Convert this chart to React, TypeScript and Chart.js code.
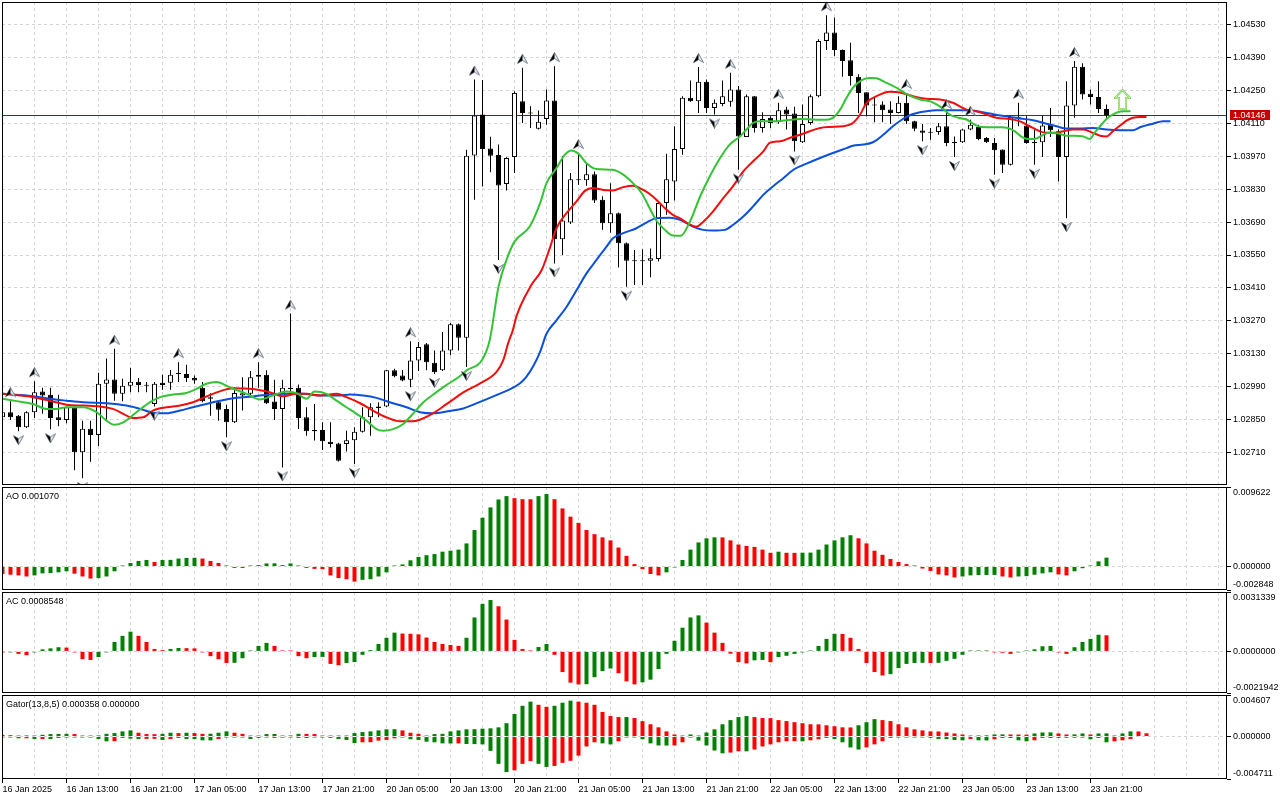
import React, { useEffect, useRef } from "react";
import { Chart, registerables } from "chart.js";

Chart.register(...registerables);

// ---------------- data ----------------
const barOpen = [
  1.02859,1.02881,1.02866,1.02817,1.02881,1.02969,1.02955,1.02859,1.02848,1.02902,
  1.02710,1.02810,1.02784,1.03002,1.03020,1.02959,1.02993,1.03010,1.02997,1.02916,
  1.03006,1.03006,1.03046,1.03044,1.03026,1.02985,1.02945,1.02923,1.02895,1.02838,
  1.02952,1.02959,1.03032,1.03040,1.02926,1.02895,1.02985,1.02985,1.02859,1.02805,
  1.02805,1.02755,1.02748,1.02745,1.02762,1.02798,1.02859,1.02899,1.02905,1.03059,
  1.03037,1.03019,1.03101,1.03170,1.03091,1.03059,1.03144,1.03255,1.03198,1.03974,
  1.04148,1.04003,1.03976,1.03852,1.03967,1.04205,1.04155,1.04087,1.04129,1.04208,
  1.03617,1.03688,1.03873,1.03868,1.03894,1.03785,1.03685,1.03728,1.03600,1.03526,
  1.03523,1.03526,1.03533,1.03771,1.03863,1.04001,1.04219,1.04205,1.04287,1.04176,
  1.04193,1.04202,1.04255,1.04052,1.04226,1.04091,1.04134,1.04115,1.04169,1.04152,
  1.04030,1.04112,1.04226,1.04461,1.04497,1.04423,1.04379,1.04309,1.04243,1.04186,
  1.04191,1.04169,1.04155,1.04198,1.04119,1.04080,1.04070,1.04074,1.04098,1.04027,
  1.04030,1.04084,1.04095,1.04048,1.04027,1.03999,1.03934,1.04138,1.04101,1.04027,
  1.04030,1.04105,1.04077,1.03967,1.04186,1.04351,1.04236,1.04223,1.04172,
];
const barHigh = [
  1.02888,1.02928,1.02869,1.02885,1.03013,1.02985,1.02985,1.02955,1.02905,1.02905,
  1.02845,1.02845,1.03049,1.03110,1.03151,1.03023,1.03070,1.03026,1.03009,1.03009,
  1.03040,1.03061,1.03094,1.03083,1.03037,1.03009,1.02962,1.02933,1.02913,1.02987,
  1.03030,1.03056,1.03094,1.03059,1.03019,1.03019,1.03301,1.02999,1.02902,1.02916,
  1.02838,1.02838,1.02751,1.02802,1.02817,1.02902,1.02919,1.02923,1.03061,1.03066,
  1.03061,1.03183,1.03180,1.03175,1.03144,1.03222,1.03261,1.03258,1.03998,1.04297,
  1.04295,1.04053,1.04020,1.03966,1.04247,1.04347,1.04183,1.04165,1.04255,1.04354,
  1.03970,1.03899,1.03984,1.03944,1.03906,1.03800,1.03856,1.03731,1.03603,1.03571,
  1.03574,1.03578,1.03774,1.03981,1.04098,1.04226,1.04293,1.04350,1.04297,1.04212,
  1.04293,1.04326,1.04269,1.04233,1.04226,1.04158,1.04141,1.04198,1.04181,1.04181,
  1.04191,1.04233,1.04468,1.04571,1.04561,1.04425,1.04454,1.04319,1.04243,1.04219,
  1.04205,1.04205,1.04226,1.04240,1.04122,1.04108,1.04091,1.04112,1.04155,1.04055,
  1.04087,1.04126,1.04105,1.04052,1.04048,1.03999,1.04141,1.04198,1.04141,1.04084,
  1.04144,1.04176,1.04084,1.04290,1.04376,1.04366,1.04255,1.04290,1.04191,
];
const barLow = [
  1.02852,1.02848,1.02800,1.02814,1.02856,1.02874,1.02808,1.02821,1.02834,1.02634,
  1.02600,1.02670,1.02737,1.02848,1.02930,1.02928,1.02966,1.02966,1.02966,1.02905,
  1.02976,1.02976,1.03009,1.03009,1.03002,1.02923,1.02866,1.02845,1.02774,1.02835,
  1.02888,1.02952,1.02985,1.02916,1.02848,1.02646,1.02970,1.02809,1.02781,1.02760,
  1.02720,1.02731,1.02671,1.02714,1.02660,1.02795,1.02781,1.02859,1.02902,1.03030,
  1.03013,1.02987,1.03056,1.03059,1.03044,1.03056,1.03123,1.03144,1.03073,1.03785,
  1.03842,1.03902,1.03529,1.03825,1.03899,1.04112,1.04091,1.04084,1.04105,1.03514,
  1.03550,1.03682,1.03849,1.03845,1.03771,1.03657,1.03645,1.03497,1.03415,1.03422,
  1.03422,1.03455,1.03522,1.03721,1.03782,1.03977,1.04202,1.04155,1.04155,1.04148,
  1.04183,1.04181,1.03913,1.04052,1.04072,1.04072,1.04091,1.04109,1.04084,1.03991,
  1.04027,1.04105,1.04222,1.04423,1.04397,1.04309,1.04272,1.04155,1.04141,1.04115,
  1.04115,1.04109,1.04152,1.04109,1.04077,1.04034,1.04041,1.04062,1.04013,1.03967,
  1.04027,1.04081,1.04038,1.04027,1.03892,1.03899,1.03931,1.04098,1.04024,1.03934,
  1.03967,1.04052,1.03863,1.03707,1.04134,1.04212,1.04191,1.04155,1.04134,
];
const barClose = [
  1.02881,1.02859,1.02817,1.02881,1.02966,1.02952,1.02856,1.02848,1.02902,1.02710,
  1.02810,1.02784,1.03002,1.03020,1.02959,1.02993,1.03010,1.02997,1.02993,1.03002,
  1.02997,1.03040,1.03043,1.03026,1.03016,1.02928,1.02938,1.02891,1.02838,1.02963,
  1.02962,1.03030,1.03040,1.02919,1.02895,1.02985,1.02980,1.02856,1.02800,1.02800,
  1.02757,1.02745,1.02674,1.02762,1.02798,1.02859,1.02902,1.02905,1.03059,1.03034,
  1.03016,1.03101,1.03158,1.03094,1.03051,1.03144,1.03255,1.03198,1.03973,1.04144,
  1.04001,1.03973,1.03846,1.03963,1.04240,1.04155,1.04152,1.04117,1.04208,1.03617,
  1.03697,1.03873,1.03868,1.03894,1.03782,1.03685,1.03728,1.03600,1.03526,1.03523,
  1.03526,1.03536,1.03771,1.03873,1.04001,1.04219,1.04205,1.04287,1.04176,1.04198,
  1.04226,1.04255,1.04055,1.04226,1.04091,1.04129,1.04112,1.04166,1.04148,1.04034,
  1.04108,1.04226,1.04461,1.04497,1.04423,1.04376,1.04312,1.04240,1.04186,1.04190,
  1.04166,1.04155,1.04198,1.04119,1.04087,1.04070,1.04073,1.04098,1.04027,1.04030,
  1.04084,1.04105,1.04044,1.04030,1.03996,1.03934,1.04138,1.04134,1.04027,1.04030,
  1.04101,1.04081,1.03967,1.04186,1.04351,1.04233,1.04223,1.04172,1.04146,
];

// Alligator (bar position, price)
const jawX = [0,3.8,5.9,8,10.1,13,15.5,17.2,19.25,20.5,22.2,23.8,25.5,27.2,29.25,31.3,33.4,35.5,37.6,39.7,42.2,43.4,45.1,46.75,48.4,50.5,52.2,53.8,55.9,57.6,59.7,61.75,63.4,64.7,65.5,66.3,67.2,68,69.25,70.5,71.75,73,74.25,75.5,76.3,77.6,79.25,80.5,81.75,83.4,84.7,86.3,87.6,88.8,90.3,91.3,92.6,93.8,95.1,96.3,97.6,99,100.5,102.2,103.8,105.5,106.3,107.6,108.8,110.1,111.3,112.6,113.8,115.5,116.75,118.4,120.1,121.75,123.4,124.7,125.9,127.2,128.8,130.5,131.75,133,134.7,136.3,138,139.7,141.3,142.2,143.8,145.1,146];
const jawY = [1.02959,1.02949,1.02938,1.02930,1.02923,1.02919,1.02909,1.02895,1.02876,1.02876,1.02888,1.02902,1.02916,1.02930,1.02942,1.02948,1.02956,1.02959,1.02959,1.02952,1.02952,1.02956,1.02952,1.02942,1.02923,1.02902,1.02881,1.02876,1.02886,1.02897,1.02925,1.02954,1.02978,1.03004,1.03032,1.03074,1.03138,1.03215,1.03272,1.03329,1.03400,1.03472,1.03529,1.03586,1.03621,1.03643,1.03664,1.03688,1.03707,1.03709,1.03700,1.03671,1.03657,1.03654,1.03657,1.03678,1.03714,1.03756,1.03806,1.03842,1.03877,1.03916,1.03939,1.03963,1.03984,1.04005,1.04015,1.04020,1.04030,1.04062,1.04098,1.04130,1.04150,1.04162,1.04166,1.04166,1.04166,1.04162,1.04152,1.04144,1.04138,1.04131,1.04124,1.04109,1.04098,1.04088,1.04088,1.04091,1.04084,1.04081,1.04081,1.04094,1.04109,1.04119,1.04119];
const teethX = [0,2.2,3.8,5.9,8,10.1,12.2,13.8,15.1,16.3,17.6,18.8,20.5,22.2,23.8,25.1,26.3,27.6,28.8,31.3,33.4,35.1,36.75,38,39.7,41.75,43,44.7,46.3,48,49.7,51.3,53.4,55.5,57.6,59.7,61.75,62.6,63.2,63.8,64.25,66.1,67.4,68.4,69.25,70.5,71.75,72.8,73.8,75.1,76.3,77.6,78.8,80.1,81.3,82.6,83.8,84.7,85.5,86.75,87.6,88.8,90.1,91.3,92.6,93.8,95.1,95.9,97.2,98.4,99.7,100.9,102.2,103.4,105.1,106.3,107.2,108,109.25,110.9,112.2,113.8,115.5,117.2,118.8,120.5,121.75,123,124.25,125.9,127.2,128,128.8,130.1,131.3,132.6,133.8,135.1,136.3,137.2,138,138.8,139.7,140.5,141.3,142.2,143];
const teethY = [1.02959,1.02952,1.02945,1.02930,1.02913,1.02909,1.02905,1.02895,1.02874,1.02856,1.02859,1.02888,1.02902,1.02909,1.02923,1.02942,1.02959,1.02975,1.02983,1.02980,1.02966,1.02949,1.02959,1.02959,1.02952,1.02959,1.02945,1.02919,1.02888,1.02859,1.02842,1.02842,1.02868,1.02915,1.02965,1.03004,1.03053,1.03103,1.03174,1.03231,1.03290,1.03422,1.03486,1.03578,1.03664,1.03728,1.03778,1.03823,1.03835,1.03827,1.03825,1.03839,1.03845,1.03827,1.03799,1.03756,1.03721,1.03706,1.03688,1.03671,1.03692,1.03735,1.03792,1.03842,1.03906,1.03948,1.03991,1.04027,1.04034,1.04048,1.04062,1.04077,1.04091,1.04095,1.04098,1.04112,1.04148,1.04198,1.04226,1.04245,1.04242,1.04226,1.04215,1.04212,1.04198,1.04169,1.04162,1.04148,1.04134,1.04129,1.04119,1.04105,1.04091,1.04072,1.04070,1.04077,1.04084,1.04084,1.04070,1.04058,1.04055,1.04077,1.04101,1.04122,1.04134,1.04138,1.04138];
const lipsX = [0,1.75,3.8,5.5,6.75,8,10.1,11.75,13,14,15.1,16.75,18.4,19.7,21.3,23,24.25,25.5,26.75,28.4,30.5,32.2,33.8,35.5,36.75,38,39,40.5,41.75,43,44.25,45.5,46.75,47.6,48.8,50.1,51.3,52.6,53.6,55.2,57.4,58,59.9,60.9,62,63,64,65.9,67.2,68,69.25,70.3,71.1,72,73,74.25,76.3,77.6,78.8,79.9,80.9,81.75,82.8,83.8,84.8,85.9,87.2,88.4,89.7,90.9,92.2,93,93.8,94.7,96.3,98,99.7,101.75,103,103.8,104.7,105.5,106.3,107.4,108.4,109.25,110.5,111.75,113,114.7,115.9,116.75,117.6,118.4,119.5,120.5,121.5,122.4,124.7,125.7,126.5,127.4,128.2,129,129.9,130.7,132,133,134,135.1,135.9,136.5,137.2,138,139,140,141];
const lipsY = [1.02938,1.02928,1.02916,1.02895,1.02895,1.02902,1.02902,1.02881,1.02845,1.02827,1.02838,1.02881,1.02923,1.02945,1.02956,1.02963,1.02980,1.03002,1.03009,1.02987,1.02959,1.02935,1.02952,1.02969,1.02962,1.02938,1.02969,1.02959,1.02930,1.02902,1.02874,1.02845,1.02809,1.02802,1.02809,1.02831,1.02874,1.02923,1.02950,1.02990,1.03040,1.03059,1.03101,1.03187,1.03415,1.03529,1.03607,1.03671,1.03771,1.03856,1.03920,1.03977,1.03995,1.03981,1.03941,1.03916,1.03913,1.03892,1.03856,1.03813,1.03749,1.03696,1.03657,1.03633,1.03632,1.03690,1.03799,1.03884,1.03963,1.04020,1.04055,1.04084,1.04112,1.04119,1.04119,1.04124,1.04129,1.04126,1.04126,1.04134,1.04169,1.04219,1.04262,1.04294,1.04304,1.04302,1.04283,1.04262,1.04235,1.04212,1.04205,1.04191,1.04172,1.04148,1.04134,1.04127,1.04105,1.04095,1.04094,1.04091,1.04077,1.04053,1.04044,1.04044,1.04058,1.04070,1.04067,1.04058,1.04058,1.04055,1.04044,1.04070,1.04098,1.04129,1.04152,1.04162,1.04162];

const upFractalBars = [1, 4, 14, 22, 32, 36, 51, 59, 65, 69, 72, 87, 91, 97, 103, 113, 118, 121, 127, 134];
const downFractalBars = [2, 6, 10, 19, 28, 35, 44, 51, 54, 58, 62, 69, 78, 89, 92, 99, 115, 119, 124, 129, 133];
const signalBars = [140];
const signalPrices = [1.04212];
const currentPrice = 1.04146;

const priceTicks = [1.0271, 1.0285, 1.0299, 1.0313, 1.0327, 1.0341, 1.0355, 1.0369, 1.0383, 1.0397, 1.0411, 1.0425, 1.0439, 1.0453];
const priceRange = [1.02571, 1.04627];

const aoValues = [
  -0.00092,-0.00100,-0.00108,-0.00121,-0.00108,-0.00083,-0.00080,-0.00071,-0.00058,-0.00087,
  -0.00121,-0.00146,-0.00141,-0.00121,-0.00058,0.00002,0.00042,0.00067,0.00079,0.00054,
  0.00079,0.00080,0.00096,0.00104,0.00105,0.00096,0.00067,0.00042,0.00002,-0.00017,
  -0.00018,0.00001,0.00017,0.00037,0.00038,0.00017,0.00037,0.00002,-0.00017,-0.00029,
  -0.00033,-0.00108,-0.00141,-0.00154,-0.00183,-0.00162,-0.00154,-0.00121,-0.00071,0.00001,
  0.00025,0.00075,0.00116,0.00137,0.00150,0.00179,0.00191,0.00204,0.00279,0.00441,
  0.00590,0.00715,0.00811,0.00852,0.00827,0.00815,0.00814,0.00852,0.00877,0.00815,
  0.00703,0.00603,0.00528,0.00441,0.00391,0.00353,0.00316,0.00229,0.00129,0.00029,
  -0.00033,-0.00091,-0.00108,-0.00071,-0.00008,0.00079,0.00204,0.00291,0.00341,0.00353,
  0.00352,0.00316,0.00266,0.00249,0.00237,0.00204,0.00166,0.00179,0.00166,0.00165,
  0.00167,0.00168,0.00204,0.00266,0.00316,0.00353,0.00378,0.00341,0.00279,0.00191,
  0.00141,0.00091,0.00054,0.00029,0.00004,-0.00025,-0.00054,-0.00096,-0.00108,-0.00133,
  -0.00121,-0.00108,-0.00104,-0.00103,-0.00102,-0.00121,-0.00133,-0.00121,-0.00117,-0.00100,
  -0.00083,-0.00071,-0.00096,-0.00108,-0.00058,-0.00021,0.00004,0.00062,0.00107,
];
const aoRange = [-0.002848, 0.009622];

const acValues = [
  -0.00006,-0.00004,-0.00013,-0.00020,-0.00002,0.00011,0.00016,0.00022,0.00020,-0.00005,
  -0.00041,-0.00045,-0.00030,-0.00001,0.00050,0.00082,0.00104,0.00082,0.00050,0.00013,
  0.00007,0.00013,0.00018,0.00017,0.00016,-0.00001,-0.00025,-0.00041,-0.00061,-0.00060,
  -0.00036,0.00001,0.00029,0.00045,0.00029,0.00004,0.00001,-0.00025,-0.00036,-0.00030,
  -0.00029,-0.00066,-0.00073,-0.00061,-0.00056,-0.00018,0.00007,0.00039,0.00072,0.00099,
  0.00094,0.00093,0.00090,0.00073,0.00050,0.00039,0.00034,0.00029,0.00072,0.00179,
  0.00251,0.00271,0.00238,0.00168,0.00061,0.00013,0.00004,0.00023,0.00039,-0.00018,
  -0.00109,-0.00165,-0.00174,-0.00173,-0.00136,-0.00104,-0.00090,-0.00115,-0.00158,-0.00174,
  -0.00163,-0.00149,-0.00093,-0.00013,0.00056,0.00125,0.00179,0.00190,0.00152,0.00099,
  0.00045,-0.00012,-0.00057,-0.00063,-0.00047,-0.00045,-0.00057,-0.00030,-0.00023,-0.00013,
  -0.00002,0.00001,0.00029,0.00066,0.00093,0.00092,0.00072,0.00013,-0.00061,-0.00109,
  -0.00127,-0.00120,-0.00088,-0.00066,-0.00061,-0.00060,-0.00061,-0.00060,-0.00050,-0.00039,
  -0.00018,0.00001,0.00004,0.00005,-0.00002,-0.00007,-0.00013,-0.00001,0.00002,0.00011,
  0.00027,0.00029,-0.00002,-0.00013,0.00022,0.00050,0.00066,0.00088,0.00085,
];
const acRange = [-0.0021942, 0.0031339];

const gatorUpper = [
  0.00018,0.00015,0.00010,0.00012,0.00008,0.00019,0.00027,0.00029,0.00030,0.00027,
  0.00011,0.00010,0.00012,0.00030,0.00038,0.00057,0.00068,0.00042,0.00027,0.00026,
  0.00030,0.00042,0.00038,0.00042,0.00038,0.00030,0.00031,0.00042,0.00057,0.00042,
  0.00030,0.00008,0.00005,0.00027,0.00028,0.00011,0.00012,0.00030,0.00029,0.00027,
  0.00011,0.00010,0.00009,0.00005,0.00038,0.00049,0.00057,0.00068,0.00080,0.00081,
  0.00068,0.00042,0.00030,0.00011,0.00027,0.00030,0.00057,0.00068,0.00080,0.00081,
  0.00087,0.00091,0.00102,0.00148,0.00250,0.00341,0.00387,0.00352,0.00330,0.00341,
  0.00375,0.00398,0.00387,0.00375,0.00352,0.00273,0.00227,0.00216,0.00217,0.00205,
  0.00171,0.00136,0.00102,0.00057,0.00023,0.00011,0.00023,0.00011,0.00045,0.00080,
  0.00136,0.00182,0.00216,0.00227,0.00216,0.00205,0.00204,0.00182,0.00171,0.00159,
  0.00148,0.00136,0.00135,0.00125,0.00114,0.00102,0.00101,0.00125,0.00159,0.00193,
  0.00182,0.00171,0.00136,0.00102,0.00080,0.00068,0.00057,0.00056,0.00045,0.00034,
  0.00023,0.00011,0.00012,0.00013,0.00023,0.00024,0.00023,0.00022,0.00021,0.00034,
  0.00045,0.00046,0.00034,0.00023,0.00024,0.00034,0.00023,0.00034,0.00035,0.00011,
  0.00034,0.00057,0.00056,0.00036,
];
const gatorLower = [
  -0.00011,-0.00011,-0.00019,-0.00019,-0.00027,-0.00027,-0.00028,-0.00015,-0.00008,-0.00005,
  -0.00004,-0.00003,-0.00027,-0.00053,-0.00052,-0.00015,-0.00023,-0.00027,-0.00026,-0.00025,
  -0.00038,-0.00027,-0.00015,-0.00027,-0.00028,-0.00042,-0.00043,-0.00027,-0.00008,-0.00007,
  -0.00006,-0.00027,-0.00015,-0.00008,-0.00015,-0.00012,-0.00011,-0.00015,-0.00016,-0.00008,
  -0.00007,-0.00015,-0.00027,-0.00038,-0.00072,-0.00064,-0.00063,-0.00045,-0.00038,-0.00020,
  -0.00010,-0.00030,-0.00038,-0.00057,-0.00064,-0.00076,-0.00077,-0.00076,-0.00083,-0.00084,
  -0.00087,-0.00159,-0.00303,-0.00394,-0.00375,-0.00303,-0.00273,-0.00303,-0.00337,-0.00326,
  -0.00292,-0.00269,-0.00212,-0.00110,-0.00064,-0.00076,-0.00087,-0.00053,-0.00008,-0.00011,
  -0.00030,-0.00076,-0.00099,-0.00100,-0.00099,-0.00064,-0.00008,-0.00045,-0.00099,-0.00155,
  -0.00186,-0.00178,-0.00163,-0.00164,-0.00144,-0.00110,-0.00087,-0.00064,-0.00053,-0.00052,
  -0.00053,-0.00042,-0.00030,-0.00015,-0.00027,-0.00064,-0.00121,-0.00144,-0.00121,-0.00087,
  -0.00053,-0.00015,-0.00008,-0.00005,-0.00004,-0.00008,-0.00015,-0.00027,-0.00028,-0.00038,
  -0.00042,-0.00027,-0.00042,-0.00043,-0.00030,-0.00015,-0.00016,-0.00042,-0.00053,-0.00042,
  -0.00015,-0.00016,-0.00015,-0.00014,-0.00013,-0.00012,-0.00030,-0.00015,-0.00064,-0.00053,
  -0.00042,-0.00027,
];
const gatorRange = [-0.004711, 0.004607];

const timeLabels = [
  "16 Jan 2025", "16 Jan 13:00", "16 Jan 21:00", "17 Jan 05:00", "17 Jan 13:00", "17 Jan 21:00",
  "20 Jan 05:00", "20 Jan 13:00", "20 Jan 21:00", "21 Jan 05:00", "21 Jan 13:00", "21 Jan 21:00",
  "22 Jan 05:00", "22 Jan 13:00", "22 Jan 21:00", "23 Jan 05:00", "23 Jan 13:00", "23 Jan 21:00",
];

const aoTitle = "AO 0.001070";
const acTitle = "AC 0.0008548";
const gatorTitle = "Gator(13,8,5) 0.000358 0.000000";

// ---------------- styling ----------------
const GREEN = "#008000";
const RED = "#ff0000";
const GRID = "#d4d4d4";
const NONE = "rgba(0,0,0,0)";
const FONT = { family: "'Liberation Sans', Arial, Helvetica, sans-serif", size: 9, lineHeight: 1.2 };
const X_MIN = -0.0625;
const X_MAX = 153.0625;
const AXIS_W = 53;
const gridTicks = Array.from({ length: 39 }, (_, k) => k * 4);

const hasLabel = (v: number) => v % 8 === 0 && !!timeLabels[v / 8];

function xAxis(withLabels: boolean): any {
  return {
    type: "linear",
    min: X_MIN,
    max: X_MAX,
    offset: false,
    display: true,
    afterBuildTicks: (s: any) => {
      s.ticks = gridTicks.map((v) => ({ value: v }));
    },
    afterFit: (s: any) => {
      s.height = withLabels ? 21 : 0;
      s.paddingLeft = 0;
      s.paddingRight = 0;
    },
    grid: {
      offset: false,
      color: (c: any) => (c.tick && c.tick.value > 0 ? GRID : NONE),
      lineWidth: 1,
      drawTicks: withLabels,
      tickLength: 4,
      tickColor: (c: any) => (c.tick && hasLabel(c.tick.value) ? "#000" : NONE),
    },
    border: { display: false, dash: [3, 3] },
    ticks: {
      display: withLabels,
      autoSkip: false,
      maxRotation: 0,
      minRotation: 0,
      align: "start",
      padding: 1,
      color: "#000",
      font: FONT,
      callback: (v: number) => (hasLabel(v) ? timeLabels[v / 8] : ""),
    },
  };
}

function yAxis(range: number[], ticks: number[], label: (v: number) => any, gridAll: boolean): any {
  return {
    type: "linear",
    position: "right",
    min: range[0],
    max: range[1],
    beginAtZero: false,
    afterBuildTicks: (s: any) => {
      s.ticks = ticks.map((v) => ({ value: v }));
    },
    afterFit: (s: any) => {
      s.width = AXIS_W;
      s.paddingTop = 0;
      s.paddingBottom = 0;
    },
    grid: {
      color: (c: any) => (gridAll || (c.tick && c.tick.value === 0) ? GRID : NONE),
      lineWidth: 1,
      drawTicks: true,
      tickLength: 4,
      tickColor: "#000",
    },
    border: { display: false, dash: [3, 3] },
    ticks: {
      autoSkip: false,
      padding: 2,
      color: "#000",
      font: FONT,
      crossAlign: "near",
      callback: (v: number) => label(v),
    },
  };
}

function edgeLabel(range: number[], digits: number) {
  return (v: number) => {
    const t = v.toFixed(digits);
    if (v === range[1]) return ["", t];
    if (v === range[0]) return [t, ""];
    return t;
  };
}

const framePlugin = {
  id: "paneFrame",
  afterDraw(chart: any) {
    const { ctx, chartArea: a } = chart;
    ctx.save();
    ctx.strokeStyle = "#000";
    ctx.lineWidth = 1;
    ctx.strokeRect(
      Math.round(a.left) + 0.5,
      Math.round(a.top) + 0.5,
      Math.round(a.right - a.left) - 1,
      Math.round(a.bottom - a.top) - 1
    );
    ctx.restore();
  },
};

function titlePlugin(text: string) {
  return {
    id: "paneTitle",
    afterDraw(chart: any) {
      const { ctx, chartArea: a } = chart;
      ctx.save();
      ctx.fillStyle = "#000";
      ctx.font = `${FONT.size}px ${FONT.family}`;
      ctx.textBaseline = "middle";
      ctx.textAlign = "left";
      ctx.fillText(text, a.left + 4, a.top + 9.5);
      ctx.restore();
    },
  };
}

const priceLinePlugin = {
  id: "priceLine",
  beforeDatasetsDraw(chart: any) {
    const { ctx, chartArea: a } = chart;
    const y = Math.round(chart.scales.y.getPixelForValue(currentPrice)) + 0.5;
    ctx.save();
    ctx.strokeStyle = "#b00000";
    ctx.lineWidth = 1;
    ctx.beginPath();
    ctx.moveTo(a.left, y);
    ctx.lineTo(a.right, y);
    ctx.stroke();
    ctx.restore();
  },
  afterDraw(chart: any) {
    const { ctx, chartArea: a } = chart;
    const y = Math.round(chart.scales.y.getPixelForValue(currentPrice));
    ctx.save();
    ctx.fillStyle = "#c80000";
    ctx.fillRect(a.right + 3, y - 5, 40, 10);
    ctx.fillStyle = "#fff";
    ctx.font = `${FONT.size}px ${FONT.family}`;
    ctx.textBaseline = "middle";
    ctx.textAlign = "left";
    ctx.fillText(currentPrice.toFixed(5), a.right + 6, y + 0.5);
    ctx.restore();
  },
};

function makeFractalSprite(up: boolean): HTMLCanvasElement {
  const c = document.createElement("canvas");
  c.width = 11;
  c.height = 28;
  const g = c.getContext("2d") as CanvasRenderingContext2D;
  if (!up) {
    g.translate(0, 28);
    g.scale(1, -1);
  }
  g.beginPath();
  g.moveTo(5.5, 0.5);
  g.lineTo(10.5, 9.5);
  g.lineTo(5.5, 6.5);
  g.lineTo(0.5, 9.5);
  g.closePath();
  g.fillStyle = "#eef0f2";
  g.fill();
  g.strokeStyle = "#6f7f8f";
  g.lineWidth = 1;
  g.stroke();
  g.beginPath();
  g.moveTo(5.5, 0.5);
  g.lineTo(5.5, 6.5);
  g.lineTo(0.5, 9.5);
  g.closePath();
  g.fillStyle = "#000";
  g.fill();
  return c;
}

function makeSignalSprite(): HTMLCanvasElement {
  const c = document.createElement("canvas");
  c.width = 17;
  c.height = 21;
  const g = c.getContext("2d") as CanvasRenderingContext2D;
  g.beginPath();
  g.moveTo(8.5, 1);
  g.lineTo(16, 9);
  g.lineTo(12, 9);
  g.lineTo(12, 20);
  g.lineTo(5, 20);
  g.lineTo(5, 9);
  g.lineTo(1, 9);
  g.closePath();
  g.fillStyle = "#ffffff";
  g.fill();
  g.strokeStyle = "#78d24a";
  g.lineWidth = 2;
  g.stroke();
  g.strokeStyle = "#c8f0b0";
  g.lineWidth = 1;
  g.stroke();
  return c;
}

const upDownColors = (arr: number[]) => arr.map((v, i) => (i > 0 && v > arr[i - 1] ? GREEN : RED));
const absColors = (arr: number[]) =>
  arr.map((v, i) => (i > 0 && Math.abs(v) > Math.abs(arr[i - 1]) ? GREEN : RED));

function baseOptions(padding: any, x: any, y: any): any {
  return {
    responsive: false,
    animation: false,
    events: [],
    layout: { padding, autoPadding: false },
    plugins: { legend: { display: false }, tooltip: { enabled: false } },
    scales: { x, y },
  };
}

function histogram(values: number[], colors: string[], order: number): any {
  return {
    type: "bar",
    data: values.map((v, i) => ({ x: i, y: v })),
    backgroundColor: colors,
    borderWidth: 0,
    barThickness: 4,
    grouped: false,
    inflateAmount: 0,
    minBarLength: 1,
    order,
  };
}

export default function App() {
  const mainRef = useRef<HTMLCanvasElement>(null);
  const aoRef = useRef<HTMLCanvasElement>(null);
  const acRef = useRef<HTMLCanvasElement>(null);
  const gatorRef = useRef<HTMLCanvasElement>(null);

  useEffect(() => {
    const charts: Chart[] = [];
    const upSprite = makeFractalSprite(true);
    const downSprite = makeFractalSprite(false);
    const signalSprite = makeSignalSprite();

    const idx = barOpen.map((_, i) => i);
    const line = (xs: number[], ys: number[], color: string, order: number): any => ({
      type: "line",
      data: xs.map((x, k) => ({ x, y: ys[k] })),
      borderColor: color,
      borderWidth: 2,
      pointRadius: 0,
      fill: false,
      cubicInterpolationMode: "monotone",
      order,
    });

    if (mainRef.current) {
      charts.push(
        new Chart(mainRef.current, {
          type: "bar",
          data: {
            datasets: [
              {
                type: "bar",
                data: idx.map((i) => ({ x: i, y: [barLow[i], barHigh[i]] })),
                backgroundColor: "#000",
                borderWidth: 0,
                barThickness: 1,
                grouped: false,
                inflateAmount: 0,
                minBarLength: 1,
                order: 10,
              },
              {
                type: "bar",
                data: idx.map((i) => ({ x: i, y: [barOpen[i], barClose[i]] })),
                backgroundColor: idx.map((i) => (barClose[i] >= barOpen[i] ? "#fff" : "#000")),
                borderColor: "#000",
                borderWidth: 1,
                borderSkipped: false,
                barThickness: 5,
                grouped: false,
                inflateAmount: 0,
                minBarLength: 1,
                order: 9,
              },
              line(jawX, jawY, "#0a50dc", 8),
              line(teethX, teethY, "#f20d0d", 7),
              line(lipsX, lipsY, "#34c334", 6),
              {
                type: "scatter",
                data: upFractalBars.map((b) => ({ x: b, y: barHigh[b] })),
                pointStyle: upSprite,
                pointRadius: 4,
                order: 5,
              },
              {
                type: "scatter",
                data: downFractalBars.map((b) => ({ x: b, y: barLow[b] })),
                pointStyle: downSprite,
                pointRadius: 4,
                order: 4,
              },
              {
                type: "scatter",
                data: signalBars.map((b, k) => ({ x: b, y: signalPrices[k] })),
                pointStyle: signalSprite,
                pointRadius: 4,
                order: 3,
              },
            ] as any,
          },
          options: baseOptions(
            { left: 2, right: 0, top: 2, bottom: 2 },
            xAxis(false),
            yAxis(priceRange, priceTicks, (v: number) => v.toFixed(5), true)
          ),
          plugins: [priceLinePlugin, framePlugin],
        } as any)
      );
    }

    if (aoRef.current) {
      charts.push(
        new Chart(aoRef.current, {
          type: "bar",
          data: { datasets: [histogram(aoValues, upDownColors(aoValues), 1)] },
          options: baseOptions(
            { left: 2, right: 0, top: 0, bottom: 1 },
            xAxis(false),
            yAxis(aoRange, [aoRange[0], 0, aoRange[1]], edgeLabel(aoRange, 6), false)
          ),
          plugins: [framePlugin, titlePlugin(aoTitle)],
        } as any)
      );
    }

    if (acRef.current) {
      charts.push(
        new Chart(acRef.current, {
          type: "bar",
          data: { datasets: [histogram(acValues, upDownColors(acValues), 1)] },
          options: baseOptions(
            { left: 2, right: 0, top: 1, bottom: 1 },
            xAxis(false),
            yAxis(acRange, [acRange[0], 0, acRange[1]], edgeLabel(acRange, 7), false)
          ),
          plugins: [framePlugin, titlePlugin(acTitle)],
        } as any)
      );
    }

    if (gatorRef.current) {
      charts.push(
        new Chart(gatorRef.current, {
          type: "bar",
          data: {
            datasets: [
              histogram(gatorUpper, absColors(gatorUpper), 1),
              histogram(gatorLower, absColors(gatorLower), 2),
            ],
          },
          options: baseOptions(
            { left: 2, right: 0, top: 1, bottom: 0 },
            xAxis(true),
            yAxis(gatorRange, [gatorRange[0], 0, gatorRange[1]], edgeLabel(gatorRange, 6), false)
          ),
          plugins: [framePlugin, titlePlugin(gatorTitle)],
        } as any)
      );
    }

    return () => {
      charts.forEach((c) => c.destroy());
    };
  }, []);

  const canvasStyle = (top: number, height: number): React.CSSProperties => ({
    position: "absolute",
    left: 0,
    top,
    width: 1280,
    height,
    display: "block",
  });

  return (
    <div style={{ position: "absolute", left: 0, top: 0, width: 1280, height: 800, background: "#fff", overflow: "hidden" }}>
      <canvas ref={mainRef} width={1280} height={487} style={canvasStyle(0, 487)} />
      <canvas ref={aoRef} width={1280} height={104} style={canvasStyle(487, 104)} />
      <canvas ref={acRef} width={1280} height={103} style={canvasStyle(591, 103)} />
      <canvas ref={gatorRef} width={1280} height={106} style={canvasStyle(694, 106)} />
    </div>
  );
}
